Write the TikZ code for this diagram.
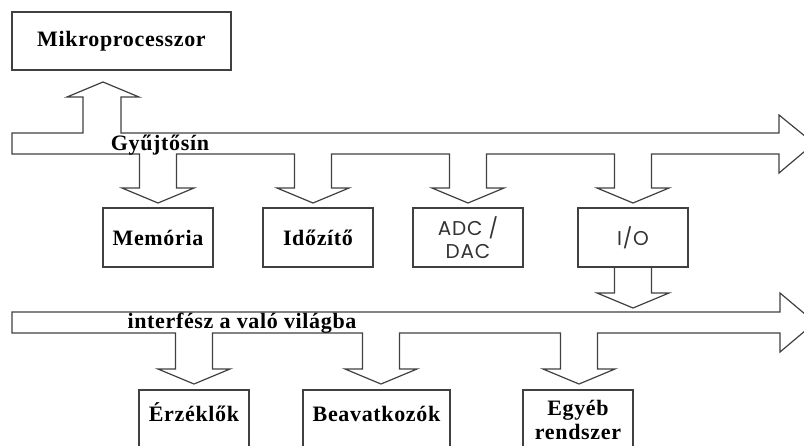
\documentclass[tikz,border=0pt]{standalone}
\usepackage{fontspec}
\setmainfont{Liberation Serif}
\newfontfamily\serifbold[LetterSpace=3]{Liberation Serif}
\newfontfamily\sansfont[LetterSpace=4]{Poppins}
\usetikzlibrary{positioning}

\definecolor{linegray}{HTML}{404040}
\newcommand{\lblfont}{\serifbold\bfseries\fontsize{22}{24}\selectfont}
\newcommand{\sansfontsz}{\sansfont\fontsize{20}{23}\selectfont}

\tikzset{
    box/.style={draw=linegray, line width=1.2pt, minimum width=110pt, minimum height=59pt,
        inner sep=0pt, font=\lblfont, align=center},
    lowbox/.style={box, text height=15pt, text depth=12pt},
    bus/.style={draw=linegray, line width=1.2pt, line join=miter},
}

\begin{document}
\begin{tikzpicture}[x=1pt, y=-1pt]
    \useasboundingbox (0,0) rectangle (804,445);

    % Mikroprocesszor
    \node [box, minimum width=219pt, minimum height=58pt] (mikro) at (121.5,41) {Mikroprocesszor};

    % Units on the upper bus
    \node [box] (mem) at (158,237.5) {Memória};
    \node [box] (timer) at (318,237.5) {Időzítő};
    \node [box, font=\sansfontsz, text=black!80] (adc) at (468,237.5) {ADC /\\DAC};
    \node [box, font=\sansfontsz, text=black!80] (io) at (633,237.5) {I/O};

    % Units on the lower bus
    \node [lowbox] (sensor) at (194,419.5) {Érzéklők};
    \node [lowbox, minimum width=147pt] (actuator) at (376.5,419.5) {Beavatkozók};
    \node [box] (other) at (578,419.5) {Egyéb\\rendszer};

    % Upper bus (Gyujtosin) with the branches
    \draw [bus] (12,133) -- (83,133) -- (83,97) -- (67,97) -- (103,82) -- (139,97) -- (121,97) -- (121,133)
        -- (779,133) -- (779,115) -- (814,143.5) -- (779,173) -- (779,154)
        foreach \cx in {633,468,313,158} {
            -- ({\cx+18.5},154) -- ({\cx+18.5},188) -- ({\cx+36},188) -- (\cx,203)
            -- ({\cx-36},188) -- ({\cx-18.5},188) -- ({\cx-18.5},154)
        }
        -- (12,154) -- cycle;
    \node [font=\lblfont] (buslabel) at (160,145) {Gyűjtősín};

    % I/O down to the lower bus
    \draw [bus] (614.5,267) -- (614.5,293) -- (597,293) -- (633,308) -- (669,293) -- (651.5,293) -- (651.5,267);

    % Lower bus (interface)
    \draw [bus] (12,312) -- (780,312) -- (780,293) -- (815,322.5) -- (780,352) -- (780,333)
        foreach \cx in {579,381,194} {
            -- ({\cx+18.5},333) -- ({\cx+18.5},369) -- ({\cx+36},369) -- (\cx,384)
            -- ({\cx-36},369) -- ({\cx-18.5},369) -- ({\cx-18.5},333)
        }
        -- (12,333) -- cycle;
    \node [font=\lblfont] (iflabel) at (242,323) {interfész a való világba};
\end{tikzpicture}
\end{document}
